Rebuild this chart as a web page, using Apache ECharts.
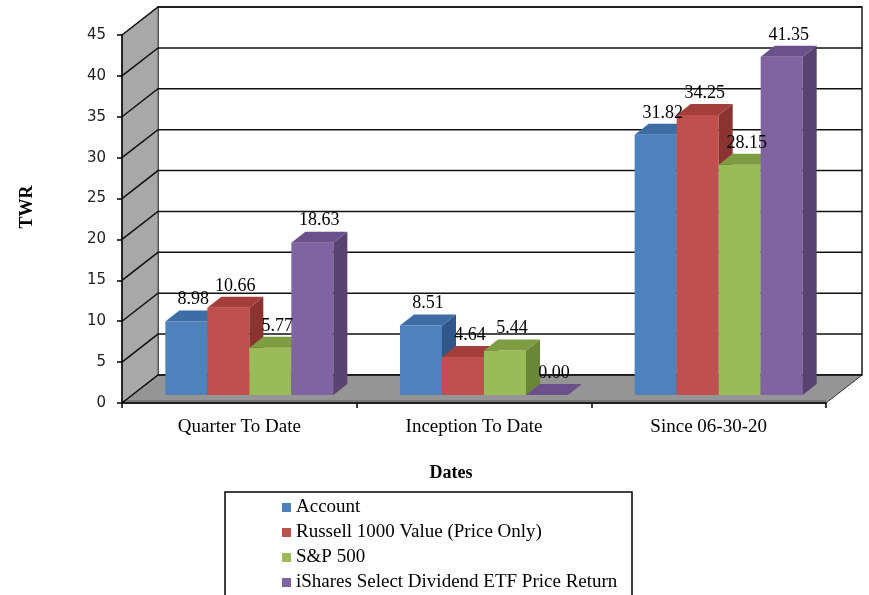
<!DOCTYPE html>
<html>
<head>
<meta charset="utf-8">
<title>TWR by Period</title>
<script src="https://cdn.jsdelivr.net/npm/echarts@6/dist/echarts.min.js"></script>
<style>
  html, body { margin: 0; padding: 0; background: #ffffff; }
  #chart { width: 869px; height: 595px; }
</style>
</head>
<body>
<div id="chart"></div>
<script>
// ---- data ----
const categories = ['Quarter To Date', 'Inception To Date', 'Since 06-30-20'];
const seriesNames = ['Account', 'Russell 1000 Value (Price Only)', 'S&P 500', 'iShares Select Dividend ETF Price Return'];
const account = [8.98, 8.51, 31.82];
const russell = [10.66, 4.64, 34.25];
const sp500 = [5.77, 5.44, 28.15];
const ishares = [18.63, 0.00, 41.35];
const yTicks = [0, 5, 10, 15, 20, 25, 30, 35, 40, 45];

// ---- 3D look ----
const WALL_DX = 36, WALL_DY = -28;      // depth of the back wall from the front axis plane
const BAR_DX0 = 10, BAR_DY0 = -8;       // front face of the bars, behind the axis plane
const BAR_DX = 14, BAR_DY = -11;        // depth of each bar
const BAR_FRAC = 0.179;                 // bar width as a share of the category band

const faces = [
  { front: '#4F81BD', top: '#3E6DA6', side: '#30568A' },
  { front: '#C0504D', top: '#A33E3B', side: '#8A3331' },
  { front: '#9BBB59', top: '#7E9C42', side: '#6A8737' },
  { front: '#8064A2', top: '#6A5189', side: '#574270' }
];
const serif = '"Liberation Serif", "Times New Roman", serif';

function makeBarRender(idx) {
  const c = faces[idx];
  return function (params, api) {
    const ci = api.value(0);
    const v = api.value(1);
    const base = api.coord([ci, 0]);
    const top = api.coord([ci, v]);
    const band = api.size([1, 0])[0];
    const w = band * BAR_FRAC;
    const x0 = base[0] - 2 * w + idx * w + BAR_DX0;
    const x1 = x0 + w;
    const yb = base[1] + BAR_DY0;
    const yt = top[1] + BAR_DY0;
    return {
      type: 'group',
      children: [
        { type: 'rect', shape: { x: x0, y: yt, width: w, height: yb - yt },
          style: { fill: c.front } },
        { type: 'polygon', shape: { points: [[x1, yt], [x1 + BAR_DX, yt + BAR_DY], [x1 + BAR_DX, yb + BAR_DY], [x1, yb]] },
          style: { fill: c.side } },
        { type: 'polygon', shape: { points: [[x0, yt], [x1, yt], [x1 + BAR_DX, yt + BAR_DY], [x0 + BAR_DX, yt + BAR_DY]] },
          style: { fill: c.top } },
        { type: 'text', z2: 50,
          style: { x: x0 + w / 2 + BAR_DX / 2, y: yt + BAR_DY - 11, text: v.toFixed(2),
                   align: 'center', verticalAlign: 'middle',
                   fontFamily: serif, fontSize: 18, fill: '#000' } }
      ]
    };
  };
}

function frame(api) {
  const band = api.size([1, 0])[0];
  const left = api.coord([0, 0])[0] - band / 2;
  const right = api.coord([categories.length - 1, 0])[0] + band / 2;
  const y0 = api.coord([0, 0])[1];
  const yTop = api.coord([0, yTicks[yTicks.length - 1]])[1];
  return { left, right, y0, yTop };
}

function wallsRender(params, api) {
  const f = frame(api);
  return {
    type: 'group',
    children: [
      // back wall
      { type: 'rect', shape: { x: f.left + WALL_DX, y: f.yTop + WALL_DY, width: f.right - f.left, height: f.y0 - f.yTop },
        style: { fill: '#ffffff', stroke: '#1a1a1a', lineWidth: 1.5 } },
      // left side wall
      { type: 'polygon', shape: { points: [[f.left, f.y0], [f.left, f.yTop], [f.left + WALL_DX, f.yTop + WALL_DY], [f.left + WALL_DX, f.y0 + WALL_DY]] },
        style: { fill: '#A8A8A8', stroke: '#555', lineWidth: 1 } },
      // floor
      { type: 'polygon', shape: { points: [[f.left, f.y0], [f.right, f.y0], [f.right + WALL_DX, f.y0 + WALL_DY], [f.left + WALL_DX, f.y0 + WALL_DY]] },
        style: { fill: '#959595', stroke: '#333', lineWidth: 1 } },
      // floor edge
      { type: 'polygon', shape: { points: [[f.left, f.y0 - 3], [f.right, f.y0 - 3], [f.right, f.y0 + 1], [f.left, f.y0 + 1]] },
        style: { fill: '#7A7A7A' } }
    ]
  };
}

function gridRender(params, api) {
  const f = frame(api);
  const v = api.value(1);
  const y = api.coord([0, v])[1];
  return {
    type: 'polyline',
    shape: { points: [[f.left, y], [f.left + WALL_DX, y + WALL_DY], [f.right + WALL_DX, y + WALL_DY]] },
    style: { stroke: '#111', lineWidth: 1.5, fill: null }
  };
}

const valueSets = [account, russell, sp500, ishares];
const barSeries = valueSets.map((vals, i) => ({
  name: seriesNames[i],
  type: 'custom',
  z: 5,
  itemStyle: { color: faces[i].front },
  encode: { x: 0, y: 1 },
  renderItem: makeBarRender(i),
  data: vals.map((v, ci) => [ci, v])
}));

const chart = echarts.init(document.getElementById('chart'), null, { renderer: 'canvas' });
chart.setOption({
  animation: false,
  color: faces.map(f => f.front),
  grid: { left: 122, right: 43, top: 35, bottom: 192, containLabel: false },
  xAxis: {
    type: 'category',
    data: categories,
    z: 10,
    axisLine: { lineStyle: { color: '#000', width: 1.5 } },
    axisTick: { show: true, alignWithLabel: false, length: 5, lineStyle: { color: '#000', width: 1.5 } },
    axisLabel: { margin: 15, fontFamily: serif, fontSize: 19, color: '#000' },
    splitLine: { show: false }
  },
  yAxis: {
    type: 'value',
    min: 0, max: 45, interval: 5,
    z: 10,
    axisLine: { show: true, lineStyle: { color: '#000', width: 1.5 } },
    axisTick: { show: true, length: 5, lineStyle: { color: '#000', width: 1.5 } },
    axisLabel: { margin: 16, fontFamily: '"DejaVu Sans", Verdana, sans-serif', fontSize: 15, color: '#222' },
    splitLine: { show: false }
  },
  legend: {
    data: seriesNames,
    orient: 'vertical',
    left: 225, top: 492,
    icon: 'rect',
    itemWidth: 9, itemHeight: 9, itemGap: 6,
    selectedMode: false,
    padding: [6, 0, 0, 57],
    textStyle: { fontFamily: serif, fontSize: 19, color: '#000' }
  },
  graphic: [
    // legend frame (runs past the bottom edge)
    { type: 'rect', shape: { x: 225, y: 492, width: 407, height: 130 },
      style: { fill: null, stroke: '#000', lineWidth: 1.5 }, silent: true },
    { type: 'text', x: 27, y: 207, rotation: Math.PI / 2,
      style: { text: 'TWR', align: 'center', verticalAlign: 'middle', fontFamily: serif, fontSize: 18, fontWeight: 'bold', fill: '#000' } },
    { type: 'text', x: 451, y: 473,
      style: { text: 'Dates', align: 'center', verticalAlign: 'middle', fontFamily: serif, fontSize: 18, fontWeight: 'bold', fill: '#000' } }
  ],
  series: [
    { type: 'custom', z: 1, silent: true, encode: { x: 0, y: 1 }, renderItem: wallsRender, data: [[0, 0]] },
    { type: 'custom', z: 2, silent: true, encode: { x: 0, y: 1 }, renderItem: gridRender, data: yTicks.map(t => [0, t]) }
  ].concat(barSeries)
});
</script>
</body>
</html>
